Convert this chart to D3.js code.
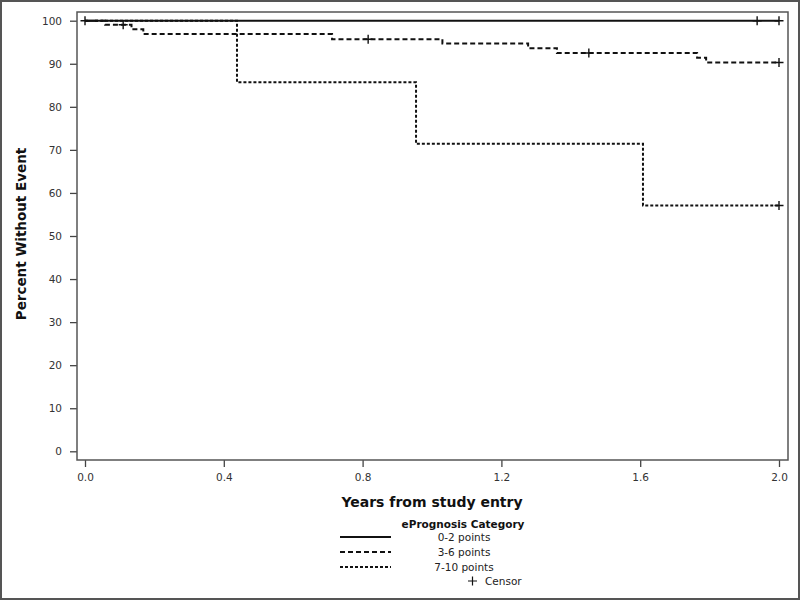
<!DOCTYPE html>
<html>
<head>
<meta charset="utf-8">
<script src="https://cdn.jsdelivr.net/npm/d3@7"></script>
<style>
  html, body { margin: 0; padding: 0; background: #fff; }
  svg { display: block; }
  text { font-family: "DejaVu Sans", sans-serif; }
</style>
</head>
<body>
<svg id="chart" width="800" height="600"></svg>
<script>
// ---- Data ----
const groups = ["0-2 points", "3-6 points", "7-10 points"];

const times02 = [0, 2.0];
const surv02  = [100, 100];
const censT02 = [0, 1.937, 2.0];
const censS02 = [100, 100, 100];

const times36 = [0, 0.058, 0.134, 0.168, 0.712, 1.03, 1.277, 1.36, 1.764, 1.79, 2.0];
const surv36  = [100, 99.05, 98.0, 96.9, 95.7, 94.7, 93.6, 92.5, 91.4, 90.3, 90.3];
const censT36 = [0.11, 0.816, 1.452, 2.0];
const censS36 = [99.05, 95.7, 92.5, 90.3];

const times710 = [0, 0.438, 0.954, 1.608, 2.0];
const surv710  = [100, 85.7, 71.4, 57.1, 57.1];
const censT710 = [2.0];
const censS710 = [57.1];

const xTicks = [0, 0.4, 0.8, 1.2, 1.6, 2.0];
const yTicks = [0, 10, 20, 30, 40, 50, 60, 70, 80, 90, 100];

const xTitle = "Years from study entry";
const yTitle = "Percent Without Event";
const legendTitle = "ePrognosis Category";
const censorLabel = "Censor";

// ---- Layout ----
const svg = d3.select("#chart");
const frame = {l: 77, t: 12, r: 788, b: 460};
const x = d3.scaleLinear().domain([0, 2]).range([85, 779]);
const y = d3.scaleLinear().domain([0, 100]).range([451.3, 20.7]);

// outer border
svg.append("rect").attr("x", 1).attr("y", 1).attr("width", 798).attr("height", 598)
  .attr("fill", "#fff").attr("stroke", "#555").attr("stroke-width", 2);

// axes
const yAxis = d3.axisLeft(y).tickValues(yTicks).tickSize(7).tickPadding(8).tickFormat(d3.format("d"));
const gy = svg.append("g").attr("transform", `translate(${frame.l},0)`).call(yAxis);
const xAxis = d3.axisBottom(x).tickValues(xTicks).tickSize(7).tickPadding(7).tickFormat(d3.format(".1f"));
const gx = svg.append("g").attr("transform", `translate(0,${frame.b})`).call(xAxis);
[gx, gy].forEach(g => {
  g.select(".domain").remove();
  g.selectAll(".tick line").attr("stroke", "#444").attr("stroke-width", 1.3);
  g.selectAll(".tick text").attr("fill", "#333").style("font-size", "10.5px");
});

// frame
svg.append("rect").attr("x", frame.l).attr("y", frame.t)
  .attr("width", frame.r - frame.l).attr("height", frame.b - frame.t)
  .attr("fill", "none").attr("stroke", "#555").attr("stroke-width", 1.5);

// curves
const series = [
  {name: groups[2], t: times710, s: surv710, ct: censT710, cs: censS710, dash: "3,2"},
  {name: groups[1], t: times36, s: surv36, ct: censT36, cs: censS36, dash: "5,3"},
  {name: groups[0], t: times02, s: surv02, ct: censT02, cs: censS02, dash: null}
];
const line = d3.line().curve(d3.curveStepAfter).x(d => x(d[0])).y(d => y(d[1]));
series.forEach(se => {
  const pts = se.t.map((t, i) => [t, se.s[i]]);
  svg.append("path").datum(pts).attr("d", line)
    .attr("fill", "none").attr("stroke", "#111").attr("stroke-width", 2)
    .attr("stroke-dasharray", se.dash);
});
series.forEach(se => {
  const cp = se.ct.map((t, i) => [t, se.cs[i]]);
  svg.append("g").selectAll("path").data(cp).join("path")
    .attr("d", d => `M${x(d[0]) - 4.5},${y(d[1])}h9M${x(d[0])},${y(d[1]) - 4.5}v9`)
    .attr("stroke", "#111").attr("stroke-width", 1.4).attr("fill", "none");
});

// axis titles
svg.append("text").attr("x", 432).attr("y", 507).attr("text-anchor", "middle")
  .style("font-size", "14px").style("font-weight", "bold").attr("fill", "#111").text(xTitle);
svg.append("text").attr("transform", "translate(26,234) rotate(-90)").attr("text-anchor", "middle")
  .style("font-size", "13.5px").style("font-weight", "bold").attr("fill", "#111").text(yTitle);

// legend
svg.append("text").attr("x", 463).attr("y", 528).attr("text-anchor", "middle")
  .style("font-size", "10.5px").style("font-weight", "bold").attr("fill", "#111").text(legendTitle);
const legDash = [null, "5,3", "3,2"];
groups.forEach((g, i) => {
  const yy = 537 + i * 15;
  svg.append("line").attr("x1", 340).attr("x2", 391).attr("y1", yy).attr("y2", yy)
    .attr("stroke", "#111").attr("stroke-width", 2).attr("stroke-dasharray", legDash[i]);
  svg.append("text").attr("x", 464).attr("y", yy + 4).attr("text-anchor", "middle")
    .style("font-size", "10.5px").attr("fill", "#222").text(g);
});
svg.append("path").attr("d", `M468,581h9M472.5,576.5v9`).attr("stroke", "#111").attr("stroke-width", 1.2);
svg.append("text").attr("x", 485).attr("y", 585).style("font-size", "10.5px").attr("fill", "#222").text(censorLabel);
</script>
</body>
</html>
